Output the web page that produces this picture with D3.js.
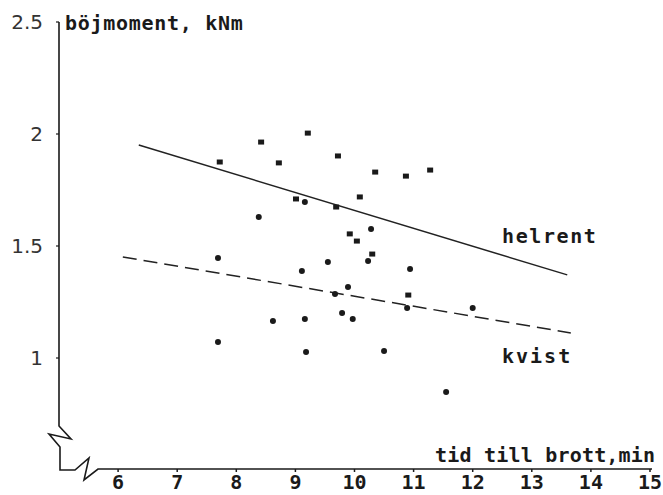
<!DOCTYPE html>
<html>
<head>
<meta charset="utf-8">
<script src="https://cdn.jsdelivr.net/npm/d3@7/dist/d3.min.js"></script>
<style>
    body { margin: 0; background: #fff; }
    svg { display: block; }
    .mono { font-family: "DejaVu Sans Mono", monospace; fill: #1a1a1a; font-weight: bold; }
    .ylab { font-family: "DejaVu Sans", sans-serif; fill: #333; font-size: 20px; }
</style>
</head>
<body>
<div id="chart"></div>
<script>
// bending moment vs time to failure, helrent (clear) vs kvist (knot)
var helrentX = [7.72, 8.42, 9.21, 8.72, 9.72, 10.35, 10.87, 11.28, 9.01, 9.69, 10.09, 9.92, 10.04, 10.30, 10.91];
var helrentY = [1.875, 1.964, 2.004, 1.871, 1.902, 1.830, 1.812, 1.839, 1.710, 1.674, 1.719, 1.554, 1.522, 1.464, 1.281];

var kvistX = [9.16, 8.38, 10.28, 7.69, 9.55, 10.23, 9.11, 10.94, 9.89, 9.67, 10.89, 12.00, 9.79, 9.97, 8.62, 9.16, 7.69, 9.18, 10.50, 11.55];
var kvistY = [1.696, 1.629, 1.576, 1.446, 1.429, 1.433, 1.388, 1.397, 1.317, 1.286, 1.223, 1.223, 1.201, 1.174, 1.165, 1.174, 1.071, 1.027, 1.031, 0.848];

// fitted lines, end points
var helrentLineX = [6.35, 13.60];
var helrentLineY = [1.951, 1.371];
var kvistLineX = [6.08, 13.66];
var kvistLineY = [1.451, 1.112];

var xTicks = [6, 7, 8, 9, 10, 11, 12, 13, 14, 15];
var yTicks = [1, 1.5, 2, 2.5];
var yTickLabels = ["1", "1.5", "2", "2.5"];

(function(d3) {

    var width = 663, height = 495;

    var svg = d3.select("#chart").append("svg")
        .attr("width", width)
        .attr("height", height);

    var x = d3.scaleLinear().domain([5, 15]).range([59, 650]);
    var y = d3.scaleLinear().domain([0.5, 2.5]).range([470, 22]);

    var x0 = x(5), y0 = y(0.5);
    var ink = "#1a1a1a";

    // axes with break marks
    var axisPath = [
        [x0, y(2.5)], [x0, y0 - 44], [x0 + 12, y0 - 31], [x0 - 10, y0 - 36],
        [x0 + 1, y0 - 23], [x0 + 1, y0], [x0 + 16, y0], [x0 + 30, y0 - 12],
        [x0 + 25, y0 + 10], [x0 + 39, y0 - 1], [x(15) + 2, y0 - 1]
    ];
    svg.append("path")
        .attr("d", d3.line()(axisPath))
        .attr("fill", "none")
        .attr("stroke", ink)
        .attr("stroke-width", 1.6)
        .attr("stroke-linejoin", "miter");

    // x ticks
    svg.selectAll(".xtick")
        .data(xTicks)
        .enter()
        .append("line")
        .attr("x1", function(d) { return x(d); })
        .attr("x2", function(d) { return x(d); })
        .attr("y1", y0 - 1)
        .attr("y2", y0 + 2)
        .attr("stroke", ink)
        .attr("stroke-width", 1.5);

    svg.selectAll(".xlab")
        .data(xTicks)
        .enter()
        .append("text")
        .attr("class", "mono")
        .attr("x", function(d) { return x(d); })
        .attr("y", y0 + 19)
        .attr("text-anchor", "middle")
        .style("font-size", "20px")
        .text(function(d) { return d; });

    // y ticks
    svg.selectAll(".ytick")
        .data(yTicks)
        .enter()
        .append("line")
        .attr("x1", x0 - 3)
        .attr("x2", x0)
        .attr("y1", function(d) { return y(d); })
        .attr("y2", function(d) { return y(d); })
        .attr("stroke", ink)
        .attr("stroke-width", 1.2);

    svg.selectAll(".ylab")
        .data(yTicks)
        .enter()
        .append("text")
        .attr("class", "ylab")
        .attr("x", 43)
        .attr("y", function(d) { return y(d) + 7; })
        .attr("text-anchor", "end")
        .text(function(d, i) { return yTickLabels[i]; });

    // axis titles
    svg.append("text")
        .attr("class", "mono")
        .attr("x", 65)
        .attr("y", 30)
        .style("font-size", "20px")
        .style("letter-spacing", "0.7px")
        .text("böjmoment, kNm");

    svg.append("text")
        .attr("class", "mono")
        .attr("x", 435)
        .attr("y", 462)
        .style("font-size", "20px")
        .style("letter-spacing", "0.2px")
        .text("tid till brott,min");

    // fitted lines
    var line = d3.line()
        .x(function(d) { return x(d[0]); })
        .y(function(d) { return y(d[1]); });

    svg.append("path")
        .attr("d", line(d3.zip(helrentLineX, helrentLineY)))
        .attr("fill", "none")
        .attr("stroke", "#222")
        .attr("stroke-width", 1.5);

    svg.append("path")
        .attr("d", line(d3.zip(kvistLineX, kvistLineY)))
        .attr("fill", "none")
        .attr("stroke", "#222")
        .attr("stroke-width", 1.5)
        .attr("stroke-dasharray", "14,7");

    // points
    svg.append("g").selectAll("rect")
        .data(d3.zip(helrentX, helrentY))
        .enter()
        .append("rect")
        .attr("x", function(d) { return x(d[0]) - 3; })
        .attr("y", function(d) { return y(d[1]) - 2.5; })
        .attr("width", 6)
        .attr("height", 5)
        .style("fill", ink);

    svg.append("g").selectAll("circle")
        .data(d3.zip(kvistX, kvistY))
        .enter()
        .append("circle")
        .attr("cx", function(d) { return x(d[0]); })
        .attr("cy", function(d) { return y(d[1]); })
        .attr("r", 3)
        .style("fill", ink);

    // line labels
    svg.append("text")
        .attr("class", "mono")
        .attr("x", 502)
        .attr("y", 243)
        .style("font-size", "20px")
        .style("letter-spacing", "1.6px")
        .text("helrent");

    svg.append("text")
        .attr("class", "mono")
        .attr("x", 502)
        .attr("y", 363)
        .style("font-size", "20px")
        .style("letter-spacing", "2px")
        .text("kvist");

})(d3);
</script>
</body>
</html>
